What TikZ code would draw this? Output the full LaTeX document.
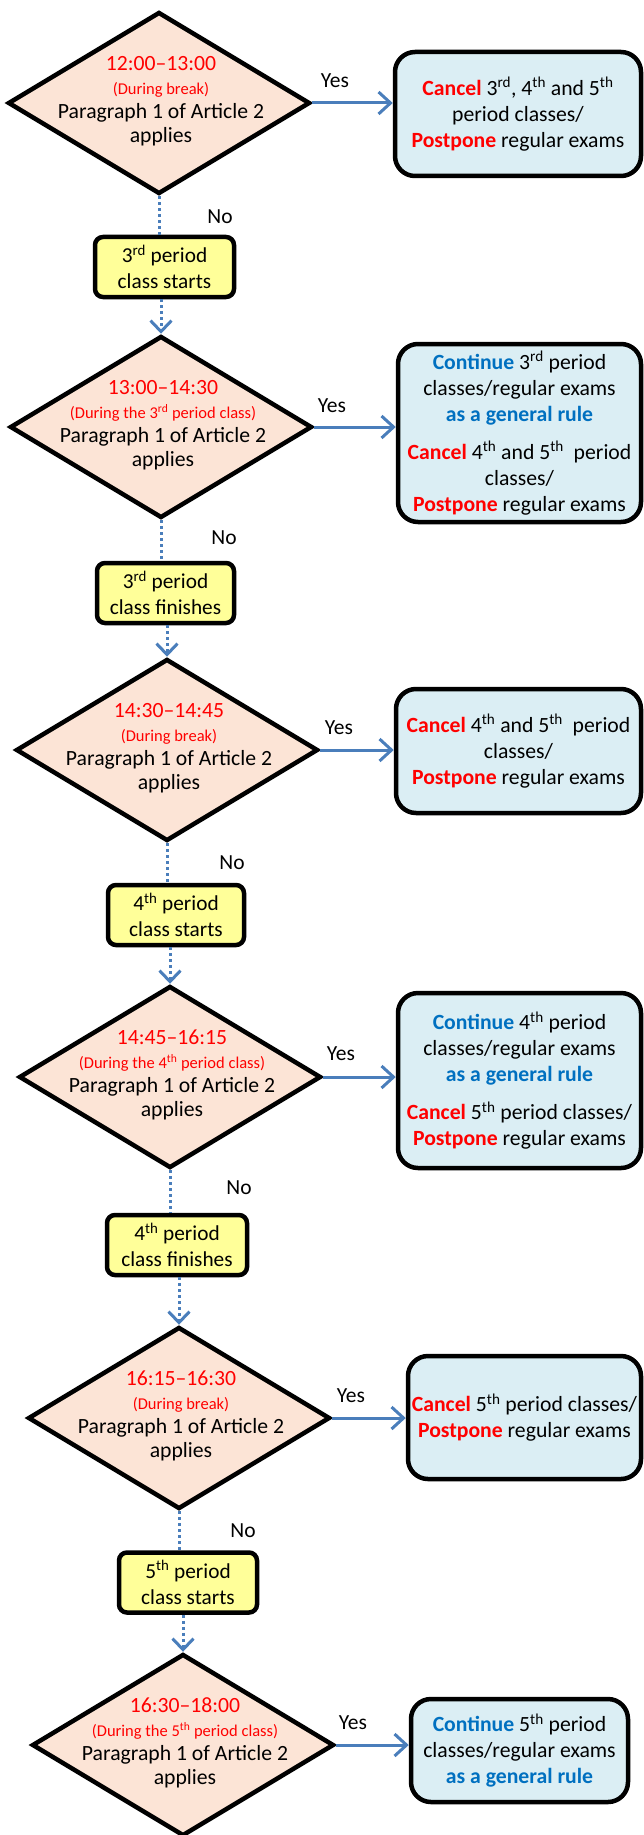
\documentclass[tikz,border=0pt]{standalone}
\usepackage{fontspec}
\setmainfont{Carlito}
\usetikzlibrary{shapes.geometric,arrows.meta}
\definecolor{peach}{HTML}{FCE4D6}
\definecolor{lblue}{HTML}{DBEEF4}
\definecolor{lyellow}{HTML}{FFFF99}
\definecolor{tred}{HTML}{FF0000}
\definecolor{tblue}{HTML}{0070C0}
\definecolor{arrowblue}{HTML}{4A7EBB}
\newcommand{\CancelW}{\textcolor{tred}{\bfseries Cancel}}
\newcommand{\PostponeW}{\textcolor{tred}{\bfseries Postpone}}
\newcommand{\ContinueW}{\textcolor{tblue}{\bfseries Continue}}
\newcommand{\GenRule}{\textcolor{tblue}{\bfseries as a general rule}}
\newcommand{\TimeW}[1]{\textcolor{tred}{#1}}
\newcommand{\SubW}[1]{{\fontsize{16.5}{19}\selectfont\textcolor{tred}{#1}}}
\newcommand{\supx}[1]{\textsuperscript{#1}}
\begin{document}
\begin{tikzpicture}[x=1pt,y=-1pt,
  dia/.style={diamond, draw=black, line width=4.5pt, fill=peach, minimum width=302pt, minimum height=182pt, inner sep=0pt},
  dtext/.style={align=center, font=\fontsize{21.7}{24}\selectfont, inner sep=0pt},
  res/.style={rectangle, rounded corners=20pt, draw=black, line width=4.5pt, fill=lblue, align=center, font=\fontsize{21.7}{26}\selectfont, inner sep=0pt},
  stepbox/.style={rectangle, rounded corners=8pt, draw=black, line width=4.5pt, fill=lyellow, align=center, font=\fontsize{21.3}{26}\selectfont, inner sep=0pt, minimum height=60pt},
  yes/.style={draw=arrowblue, line width=3pt, -{Straight Barb[length=12pt,width=22pt]}},
  no/.style={draw=arrowblue, line width=3pt, dash pattern=on 3pt off 3pt},
  noarr/.style={no, -{Straight Barb[length=11pt,width=21pt]}},
  lbl/.style={font=\fontsize{21.5}{25}\selectfont, inner sep=0pt}
]
\useasboundingbox (0,0) rectangle (644,1835);

% decision diamonds
\node[dia] (d1) at (159,103) {};
\node[dia] (d2) at (161,427) {};
\node[dia] (d3) at (167,750) {};
\node[dia] (d4) at (170,1077) {};
\node[dia] (d5) at (179,1418) {};
\node[dia] (d6) at (183,1745) {};

\node[dtext] (t1) at (161,101) {\TimeW{12:00–13:00}\\\SubW{(During break)}\\Paragraph 1 of Article 2\\applies};
\node[dtext] (t2) at (163,425) {\TimeW{13:00–14:30}\\\SubW{(During the 3\supx{rd} period class)}\\Paragraph 1 of Article 2\\applies};
\node[dtext] (t3) at (169,748) {\TimeW{14:30–14:45}\\\SubW{(During break)}\\Paragraph 1 of Article 2\\applies};
\node[dtext] (t4) at (172,1075) {\TimeW{14:45–16:15}\\\SubW{(During the 4\supx{th} period class)}\\Paragraph 1 of Article 2\\applies};
\node[dtext] (t5) at (181,1416) {\TimeW{16:15–16:30}\\\SubW{(During break)}\\Paragraph 1 of Article 2\\applies};
\node[dtext] (t6) at (185,1743) {\TimeW{16:30–18:00}\\\SubW{(During the 5\supx{th} period class)}\\Paragraph 1 of Article 2\\applies};

% result boxes
\node[res, minimum width=246pt, minimum height=124pt] (b1) at (518,114)
  {\CancelW{} 3\supx{rd}, 4\supx{th} and 5\supx{th}\\period classes/\\\PostponeW{} regular exams};
\node[res, minimum width=243pt, minimum height=178pt] (b2) at (519.5,433)
  {\ContinueW{} 3\supx{rd} period\\classes/regular exams\\\GenRule\\[12pt]\CancelW{} 4\supx{th} and 5\supx{th}\ \ period\\classes/\\\PostponeW{} regular exams};
\node[res, minimum width=245pt, minimum height=124pt] (b3) at (518.5,751)
  {\CancelW{} 4\supx{th} and 5\supx{th}\ \ period\\classes/\\\PostponeW{} regular exams};
\node[res, minimum width=243pt, minimum height=175pt] (b4) at (519.5,1080.5)
  {\ContinueW{} 4\supx{th} period\\classes/regular exams\\\GenRule\\[12pt]\CancelW{} 5\supx{th} period classes/\\\PostponeW{} regular exams};
\node[res, minimum width=233pt, minimum height=123pt] (b5) at (524.5,1417.5)
  {\CancelW{} 5\supx{th} period classes/\\\PostponeW{} regular exams};
\node[res, minimum width=217pt, minimum height=103pt] (b6) at (519.5,1750.5)
  {\ContinueW{} 5\supx{th} period\\classes/regular exams\\\GenRule};

% step boxes
\node[stepbox, minimum width=139pt] (y1) at (164.5,267) {3\supx{rd} period\\class starts};
\node[stepbox, minimum width=137pt] (y2) at (165.5,593) {3\supx{rd} period\\class finishes};
\node[stepbox, minimum width=136pt] (y3) at (176,915) {4\supx{th} period\\class starts};
\node[stepbox, minimum width=140pt] (y4) at (177,1245) {4\supx{th} period\\class finishes};
\node[stepbox, minimum width=138pt] (y5) at (188,1582.5) {5\supx{th} period\\class starts};

% yes connectors
\draw[yes] (d1.east) -- (d1.east -| b1.west);
\draw[yes] (d2.east) -- (d2.east -| b2.west);
\draw[yes] (d3.east) -- (d3.east -| b3.west);
\draw[yes] (d4.east) -- (d4.east -| b4.west);
\draw[yes] (d5.east) -- (d5.east -| b5.west);
\draw[yes] (d6.east) -- (d6.east -| b6.west);

% no connectors
\draw[no] (d1.south) -- (d1.south |- y1.north);
\draw[noarr] (y1.south -| d2.north) -- (d2.north);
\draw[no] (d2.south) -- (d2.south |- y2.north);
\draw[noarr] (y2.south -| d3.north) -- (d3.north);
\draw[no] (d3.south) -- (d3.south |- y3.north);
\draw[noarr] (y3.south -| d4.north) -- (d4.north);
\draw[no] (d4.south) -- (d4.south |- y4.north);
\draw[noarr] (y4.south -| d5.north) -- (d5.north);
\draw[no] (d5.south) -- (d5.south |- y5.north);
\draw[noarr] (y5.south -| d6.north) -- (d6.north);

% labels
\node[lbl] (yes1) at (335,81) {Yes};
\node[lbl] (yes2) at (332,406) {Yes};
\node[lbl] (yes3) at (339,728) {Yes};
\node[lbl] (yes4) at (341,1054) {Yes};
\node[lbl] (yes5) at (351,1396) {Yes};
\node[lbl] (yes6) at (353,1723) {Yes};
\node[lbl] (no1) at (220,217) {No};
\node[lbl] (no2) at (224,538) {No};
\node[lbl] (no3) at (232,863) {No};
\node[lbl] (no4) at (239,1188) {No};
\node[lbl] (no5) at (243,1531) {No};
\end{tikzpicture}
\end{document}
